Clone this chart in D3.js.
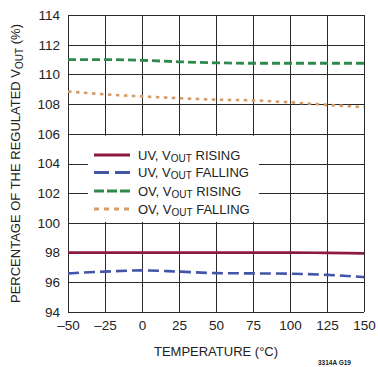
<!DOCTYPE html>
<html>
<head>
<meta charset="utf-8">
<script src="https://cdn.jsdelivr.net/npm/d3@7/dist/d3.min.js"></script>
<style>
  html, body { margin: 0; padding: 0; background: #fff; }
  svg { display: block; }
  text { font-family: "Liberation Sans Narrow", "Arial Narrow", "Liberation Sans", sans-serif; fill: #222; }
</style>
</head>
<body>
<svg id="chart" width="378" height="367"></svg>
<script>
// Temperature sweep (°C)
const temperatures = [-50, -25, 0, 25, 50, 75, 100, 125, 150];

// Threshold as a percentage of the regulated output
const uvRising  = [98.0, 98.0, 98.0, 98.0, 98.0, 98.0, 98.0, 97.98, 97.95];
const uvFalling = [96.6, 96.72, 96.8, 96.72, 96.62, 96.6, 96.58, 96.5, 96.35];
const ovRising  = [111.0, 111.0, 110.95, 110.85, 110.78, 110.75, 110.75, 110.75, 110.75];
const ovFalling = [108.85, 108.66, 108.52, 108.4, 108.3, 108.25, 108.12, 107.95, 107.8];

const xTicks = [-50, -25, 0, 25, 50, 75, 100, 125, 150];
const yTicks = [94, 96, 98, 100, 102, 104, 106, 108, 110, 112, 114];

const series = [
  { name: "UV,", state: "RISING",  values: uvRising,  color: "#8c1a3c", dash: null,   legendDash: null,   width: 2.6 },
  { name: "UV,", state: "FALLING", values: uvFalling, color: "#4356a6", dash: "11,5", legendDash: "15,6", width: 2.6 },
  { name: "OV,", state: "RISING",  values: ovRising,  color: "#2e8a4b", dash: "8,4",  legendDash: "10,3", width: 2.8 },
  { name: "OV,", state: "FALLING", values: ovFalling, color: "#d39c68", dash: "3.5,4.5", legendDash: "5,5", width: 2.6 }
];

const svg = d3.select("#chart");
const L = 68, R = 364, T = 15, B = 312;

const x = d3.scaleLinear().domain([-50, 150]).range([L, R]);
const y = d3.scaleLinear().domain([94, 114]).range([B, T]);

// Grid
const grid = svg.append("g").attr("stroke", "#2a2a2a").attr("stroke-width", 1);
grid.selectAll("line.v").data(xTicks).join("line")
  .attr("x1", d => Math.round(x(d)) + 0.5).attr("x2", d => Math.round(x(d)) + 0.5)
  .attr("y1", T).attr("y2", B);
grid.selectAll("line.h").data(yTicks).join("line")
  .attr("y1", d => Math.round(y(d)) + 0.5).attr("y2", d => Math.round(y(d)) + 0.5)
  .attr("x1", L).attr("x2", R);

// Axes (labels only; the grid draws the frame)
const xAxis = svg.append("g").attr("transform", `translate(0,${B})`)
  .call(d3.axisBottom(x).tickValues(xTicks).tickSize(0).tickPadding(8)
    .tickFormat(d => d < 0 ? "\u2013" + Math.abs(d) : d));
xAxis.select(".domain").remove();
xAxis.selectAll("text").attr("font-size", 13.5).style("font-family", null);

const yAxis = svg.append("g").attr("transform", `translate(${L},0)`)
  .call(d3.axisLeft(y).tickValues(yTicks).tickSize(0).tickPadding(8));
yAxis.select(".domain").remove();
yAxis.selectAll("text").attr("font-size", 13.5).style("font-family", null);
svg.selectAll(".tick text").attr("fill", "#222");

// Curves
const line = d3.line().x((d, i) => x(temperatures[i])).y(d => y(d)).curve(d3.curveMonotoneX);
svg.append("g").selectAll("path").data(series).join("path")
  .attr("fill", "none")
  .attr("stroke", d => d.color)
  .attr("stroke-width", d => d.width)
  .attr("stroke-dasharray", d => d.dash)
  .attr("d", d => line(d.values));

// Legend panel
const leg = svg.append("g");
leg.append("rect").attr("x", 88).attr("y", y(106) + 2).attr("width", 171)
  .attr("height", y(100) - y(106) - 3).attr("fill", "#fff");
const rowY = [155, 172.5, 191, 209];
const items = leg.selectAll("g.item").data(series).join("g")
  .attr("transform", (d, i) => `translate(0,${rowY[i]})`);
items.append("line").attr("x1", 94).attr("x2", 130).attr("y1", 0).attr("y2", 0)
  .attr("stroke", d => d.color).attr("stroke-width", 3)
  .attr("stroke-dasharray", d => d.legendDash);
const lt = items.append("text").attr("x", 138).attr("y", 4.5).attr("font-size", 13);
lt.append("tspan").text(d => d.name + "  V");
lt.append("tspan").attr("font-size", 10).attr("dy", 2).text("OUT");
lt.append("tspan").attr("dy", -2).text(d => " " + d.state);

// Axis titles
svg.append("text").attr("x", (L + R) / 2).attr("y", 356).attr("text-anchor", "middle")
  .attr("font-size", 13).text("TEMPERATURE (°C)");

const yt = svg.append("text").attr("transform", `translate(20,${(T + B) / 2}) rotate(-90)`)
  .attr("text-anchor", "middle").attr("font-size", 13);
yt.append("tspan").text("PERCENTAGE OF THE REGULATED V");
yt.append("tspan").attr("font-size", 10).attr("dy", 2.5).text("OUT");
yt.append("tspan").attr("dy", -2.5).text(" (%)");

svg.append("text").attr("x", 351).attr("y", 365).attr("text-anchor", "end")
  .attr("font-size", 6.5).attr("font-weight", "bold").text("3314A G19");
</script>
</body>
</html>
